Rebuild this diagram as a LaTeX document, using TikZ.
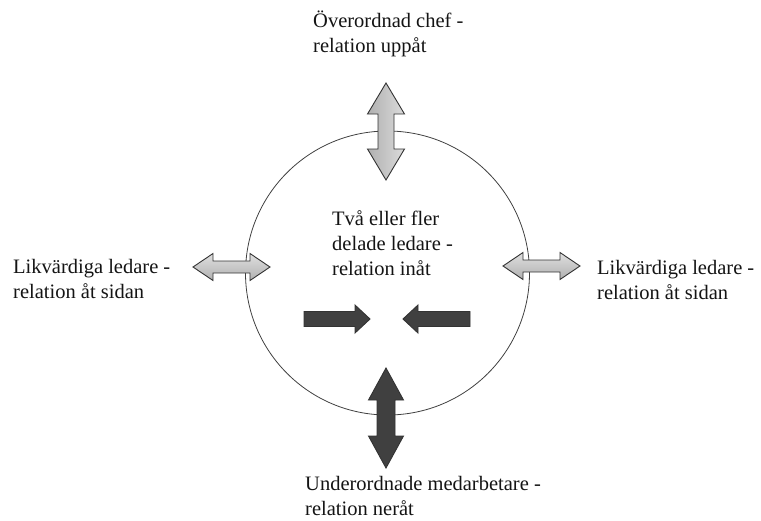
\documentclass[tikz,border=0pt]{standalone}
\usepackage{fontspec}
\setmainfont{Liberation Serif}
\begin{document}
\begin{tikzpicture}[x=1pt,y=-1pt,
  label text/.style={align=left,anchor=west,inner sep=0pt,
    font=\fontsize{20.5}{25}\selectfont,text=black!92},
  arrowline/.style={draw=black!80,line width=0.9pt,line join=miter},
  lightfill/.style={top color=gray!25,bottom color=gray!62},
  darkfill/.style={fill=black!75},
  % block arrow with heads at both ends: length, head width, shaft width, head length
  pics/dblarrow/.style n args={4}{code={
    \path[pic actions]
      (-#1/2,0) -- (-#1/2+#4,#2/2) -- (-#1/2+#4,#3/2) -- (#1/2-#4,#3/2)
      -- (#1/2-#4,#2/2) -- (#1/2,0) -- (#1/2-#4,-#2/2) -- (#1/2-#4,-#3/2)
      -- (-#1/2+#4,-#3/2) -- (-#1/2+#4,-#2/2) -- cycle;}},
  % block arrow pointing towards +x: length, head width, shaft width, head length
  pics/onearrow/.style n args={4}{code={
    \path[pic actions]
      (-#1/2,-#3/2) -- (#1/2-#4,-#3/2) -- (#1/2-#4,-#2/2) -- (#1/2,0)
      -- (#1/2-#4,#2/2) -- (#1/2-#4,#3/2) -- (-#1/2,#3/2) -- cycle;}}]
  \useasboundingbox (0,0) rectangle (761,520);

  % circle of shared leadership
  \node[draw=black!75,line width=0.8pt,circle,minimum size=284pt,inner sep=0pt]
    (ring) at (387.5,273) {};

  % upward relation
  \pic[arrowline,left color=gray!62,right color=gray!28,rotate=90] (up) at (386,131.5)
    {dblarrow={97}{37}{16}{31}};
  % downward relation
  \pic[arrowline,darkfill,rotate=90] (down) at (386,418)
    {dblarrow={100}{35}{18}{32}};
  % sideways relations
  \pic[arrowline,lightfill] (left) at (231.5,267) {dblarrow={77}{27}{12}{20}};
  \pic[arrowline,lightfill] (right) at (541.5,266) {dblarrow={77}{27}{12}{20}};
  % inward relation
  \pic[arrowline,darkfill] (inL) at (337,319) {onearrow={66}{28}{15}{15}};
  \pic[arrowline,darkfill,rotate=180] (inR) at (436.5,319) {onearrow={67}{28}{15}{15}};

  % labels
  \node[label text] (top) at (313,34) {Överordnad chef -\\relation uppåt};
  \node[label text] (mid) at (332,243) {Två eller fler\\delade ledare -\\relation inåt};
  \node[label text] (lt) at (13,279) {Likvärdiga ledare -\\relation åt sidan};
  \node[label text] (rt) at (597,280) {Likvärdiga ledare -\\relation åt sidan};
  \node[label text] (bot) at (305,496) {Underordnade medarbetare -\\relation neråt};
\end{tikzpicture}
\end{document}
